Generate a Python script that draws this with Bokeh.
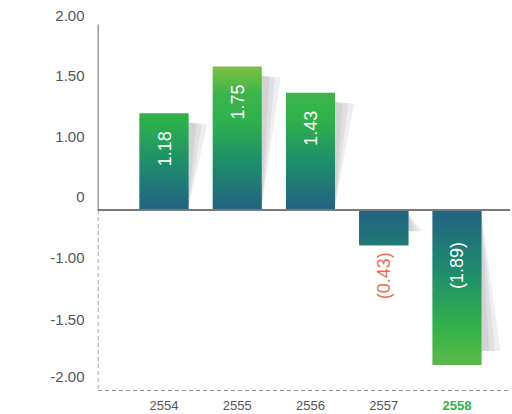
import numpy as np
from bokeh.plotting import figure
from bokeh.models import FixedTicker, Range1d, ColumnDataSource
from bokeh.core.properties import value
from bokeh.embed import file_html
from bokeh.resources import INLINE

# ---- data ----
years = ["2554", "2555", "2556", "2557", "2558"]
values = [1.18, 1.75, 1.43, -0.43, -1.89]
y_tick_labels = ["2.00", "1.50", "1.00", "0", "-1.00", "-1.50", "-2.00"]

# ---- layout (pixels) ----
W, H = 510, 412
FL = 97            # frame left
PX_X = 73.25       # px per category step
PX_Y = 82.0        # px per value unit
BASE_PX = 209.5    # baseline pixel row
x0 = -(163.5 - FL) / PX_X
x1 = x0 + (W - FL) / PX_X
y1 = BASE_PX / PX_Y
y0 = y1 - H / PX_Y


def xpx(px):
    return x0 + (px - FL) / PX_X


def ypx(py):
    return y1 - py / PX_Y


def dx(n):
    return n / PX_X


def dy(n):
    return n / PX_Y


p = figure(width=W, height=H, output_backend="svg", toolbar_location=None,
           x_range=Range1d(x0, x1), y_range=Range1d(y0, y1),
           x_axis_location=None,
           min_border_left=FL, min_border_right=0, min_border_top=0, min_border_bottom=0)
p.grid.visible = False
p.outline_line_color = None

# y axis with labels placed as in the picture
tick_px = [15, 76, 137, 196, 258, 319, 377]
ticks = [round(ypx(t), 5) for t in tick_px]
p.yaxis.ticker = FixedTicker(ticks=ticks)
p.yaxis.major_label_overrides = {t: lab for t, lab in zip(ticks, y_tick_labels)}
p.yaxis.axis_line_color = None
p.yaxis.major_tick_line_color = None
p.yaxis.minor_tick_line_color = None
p.yaxis.major_tick_out = 0
p.yaxis.major_tick_in = 0
p.yaxis.major_label_standoff = 13
p.yaxis.major_label_text_font = "Liberation Sans"
p.yaxis.major_label_text_font_size = "15px"
p.yaxis.major_label_text_color = "#555555"

BAR_W = 49 / PX_X

# ---- shadows ----
sh_xs, sh_ys = {0: [], 1: [], 2: []}, {0: [], 1: [], 2: []}
for i, v in enumerate(values):
    xr = i + BAR_W / 2
    L = abs(v) * PX_Y
    wpx = min(19.0, 0.4 * L)
    for k, f in enumerate([1.0, 0.7, 0.4]):
        w = dx(wpx * f)
        if v > 0:
            xs = [xr, xr + w, xr]
            ys = [v - dy(9), v - dy(11), dy(4)]
        else:
            xs = [xr, xr + w, xr]
            ys = [-dy(4), v + dy(14), v + dy(14)]
        sh_xs[k].append(xs)
        sh_ys[k].append(ys)
for k in range(3):
    p.patches(sh_xs[k], sh_ys[k], fill_color="#6f6a78", fill_alpha=0.11, line_color=None)

# ---- gradient bars ----
stops_pos = [(0.0, "#236183"), (0.56, "#1e8c6c"), (1.1, "#2fb14c"), (1.43, "#3cb54a"), (1.75, "#7ec142")]
stops_neg = [(0.0, "#236183"), (0.75, "#1e8c6c"), (1.45, "#33b34a"), (1.89, "#5cba47")]


def hex2rgb(h):
    return np.array([int(h[j:j + 2], 16) for j in (1, 3, 5)], dtype=float)


def interp(t, stops):
    if t <= stops[0][0]:
        c = hex2rgb(stops[0][1])
    elif t >= stops[-1][0]:
        c = hex2rgb(stops[-1][1])
    else:
        for (a, ca), (b, cb) in zip(stops[:-1], stops[1:]):
            if a <= t <= b:
                f = (t - a) / (b - a)
                c = hex2rgb(ca) * (1 - f) + hex2rgb(cb) * f
                break
    return "#%02x%02x%02x" % tuple(int(round(x)) for x in c)


N = 80
L_, R_, B_, T_, C_ = [], [], [], [], []
eps = dy(0.4)
for i, v in enumerate(values):
    edges = np.linspace(0, v, N + 1)
    stops = stops_pos if v > 0 else stops_neg
    for a, b in zip(edges[:-1], edges[1:]):
        lo, hi = min(a, b), max(a, b)
        L_.append(i - BAR_W / 2)
        R_.append(i + BAR_W / 2)
        B_.append(lo - (eps if lo > min(0, v) else 0))
        T_.append(hi + (eps if hi < max(0, v) else 0))
        C_.append(interp(abs((a + b) / 2), stops))
p.quad(left=L_, right=R_, bottom=B_, top=T_, fill_color=C_, line_color=None)

# ---- axis decoration lines ----
p.segment(x0=[xpx(97.5)], y0=[ypx(24)], x1=[xpx(97.5)], y1=[0], line_color="#808080", line_width=1.6)
p.segment(x0=[xpx(97.5)], y0=[0], x1=[xpx(97.5)], y1=[ypx(390)], line_color="#8c8c8c",
          line_width=1.1, line_dash="4 3")
p.segment(x0=[xpx(97.5)], y0=[ypx(390)], x1=[x1], y1=[ypx(390)], line_color="#8c8c8c",
          line_width=1.1, line_dash="4 3")
p.segment(x0=[xpx(97)], y0=[0], x1=[x1], y1=[0], line_color="#7a7a7a", line_width=1.8)

# ---- value labels ----
lab_txt, lab_y, lab_col = [], [], []
for v in values:
    if v >= 0:
        lab_txt.append(f"{v:.2f}")
        lab_y.append(v - dy(18))
        lab_col.append("#ffffff")
    else:
        lab_txt.append(f"({abs(v):.2f})")
        inside = abs(v) * PX_Y > 90
        lab_y.append(-dy(32) if inside else v - dy(7))
        lab_col.append("#ffffff" if inside else "#f26c50")
src = ColumnDataSource(dict(x=list(range(len(values))), y=lab_y, t=lab_txt, c=lab_col))
p.text(x="x", y="y", text="t", text_color="c", source=src, angle=np.pi / 2,
       text_align="right", text_baseline="alphabetic",
       text_font=value("Liberation Sans"), text_font_size="18px")

# ---- category labels ----
ysrc = ColumnDataSource(dict(x=list(range(len(years))), y=[ypx(405)] * len(years), t=years,
                             c=["#555555"] * 4 + ["#2cb34a"],
                             s=["normal"] * 4 + ["bold"]))
p.text(x="x", y="y", text="t", text_color="c", text_font_style="s", source=ysrc,
       text_align="center", text_baseline="middle",
       text_font=value("Liberation Sans"), text_font_size="13px")

open("out.html", "w").write(file_html(p, INLINE))
